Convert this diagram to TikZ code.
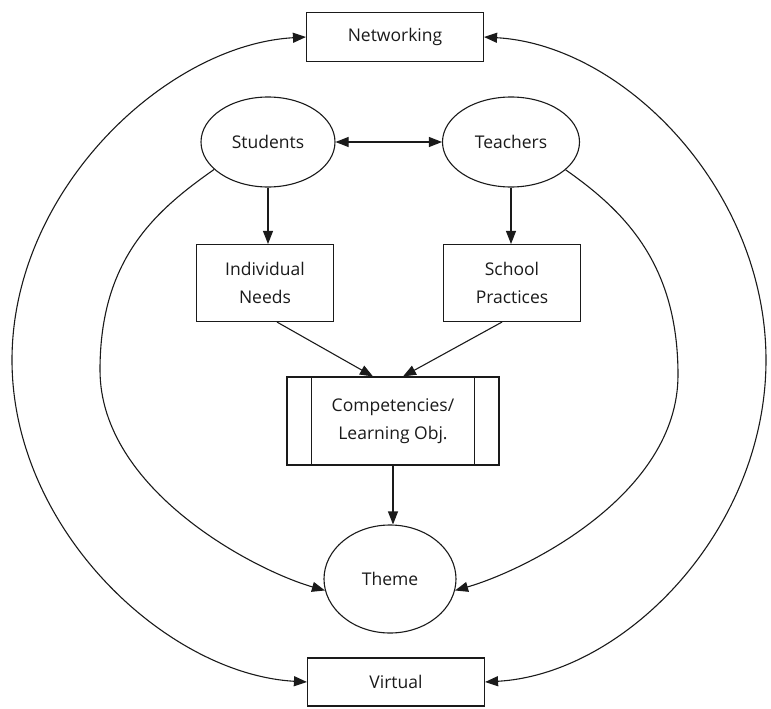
\documentclass[tikz,border=0pt]{standalone}
\usepackage{fontspec}
\setmainfont{Open Sans}
\usepackage{tikz}
\usetikzlibrary{arrows.meta,shapes.geometric}
\definecolor{ink}{HTML}{1A1A1A}
\tikzset{
  box/.style={draw=ink,line width=1.1pt,rectangle,align=center,inner sep=2pt},
  blob/.style={draw=ink,line width=1.1pt,ellipse,inner sep=0pt},
  link/.style={draw=ink,line width=1.1pt,-{Triangle[length=13pt,width=10pt]}},
  twin/.style={draw=ink,line width=1.1pt,{Triangle[length=13pt,width=10pt]}-{Triangle[length=13pt,width=10pt]}}
}

\begin{document}
\begin{tikzpicture}[x=1pt,y=-1pt,font=\fontsize{17.5}{28}\selectfont,text=ink]
\useasboundingbox (0,0) rectangle (771,709);
\node[box,minimum width=177pt,minimum height=49pt] (net) at (395,37) {Networking};
\node[blob,minimum width=134pt,minimum height=90pt] (stu) at (268,142) {Students};
\node[blob,minimum width=137pt,minimum height=90pt] (tea) at (511,142) {Teachers};
\node[box,minimum width=137pt,minimum height=77pt] (ind) at (265,283) {Individual\\Needs};
\node[box,minimum width=137pt,minimum height=77pt] (sch) at (512,283) {School\\Practices};
\node[box,minimum width=212pt,minimum height=88pt] (comp) at (393,421) {Competencies/\\Learning Obj.};
\draw[ink,line width=1.1pt] ([xshift=25pt]comp.north west) -- ([xshift=25pt]comp.south west)
  ([xshift=-25pt]comp.north east) -- ([xshift=-25pt]comp.south east);
\node[blob,minimum width=132pt,minimum height=108pt] (theme) at (390,579) {Theme};
\node[box,minimum width=177pt,minimum height=48pt] (virt) at (396,682) {Virtual};

\coordinate (lo) at (12,360);
\coordinate (ro) at (766,360);
\coordinate (li) at (100,370);
\coordinate (ri) at (678,375);

\draw[twin] (stu) -- (tea);
\draw[link] (stu.south) -- (stu.south |- ind.north);
\draw[link] (tea.south) -- (tea.south |- sch.north);
\draw[link] ([xshift=12pt]ind.south) -- ([xshift=-20pt]comp.north);
\draw[link] ([xshift=-10pt]sch.south) -- ([xshift=10pt]comp.north);
\draw[link] (comp.south) -- (comp.south |- theme.north);

\draw[twin] (net.west) .. controls +(-140,8) and +(0,-170) .. (lo)
  .. controls +(0,170) and +(-140,-8) .. (virt.west);
\draw[twin] (net.east) .. controls +(140,8) and +(0,-170) .. (ro)
  .. controls +(0,170) and +(140,-8) .. (virt.east);
\draw[link] (stu.207) .. controls +(-60,42) and +(0,-110) .. (li)
  .. controls +(0,120) and +(-70,-20) .. (theme.190);
\draw[link] (tea.-27) .. controls +(60,42) and +(0,-110) .. (ri)
  .. controls +(0,120) and +(70,-20) .. (theme.-10);
\end{tikzpicture}
\end{document}
